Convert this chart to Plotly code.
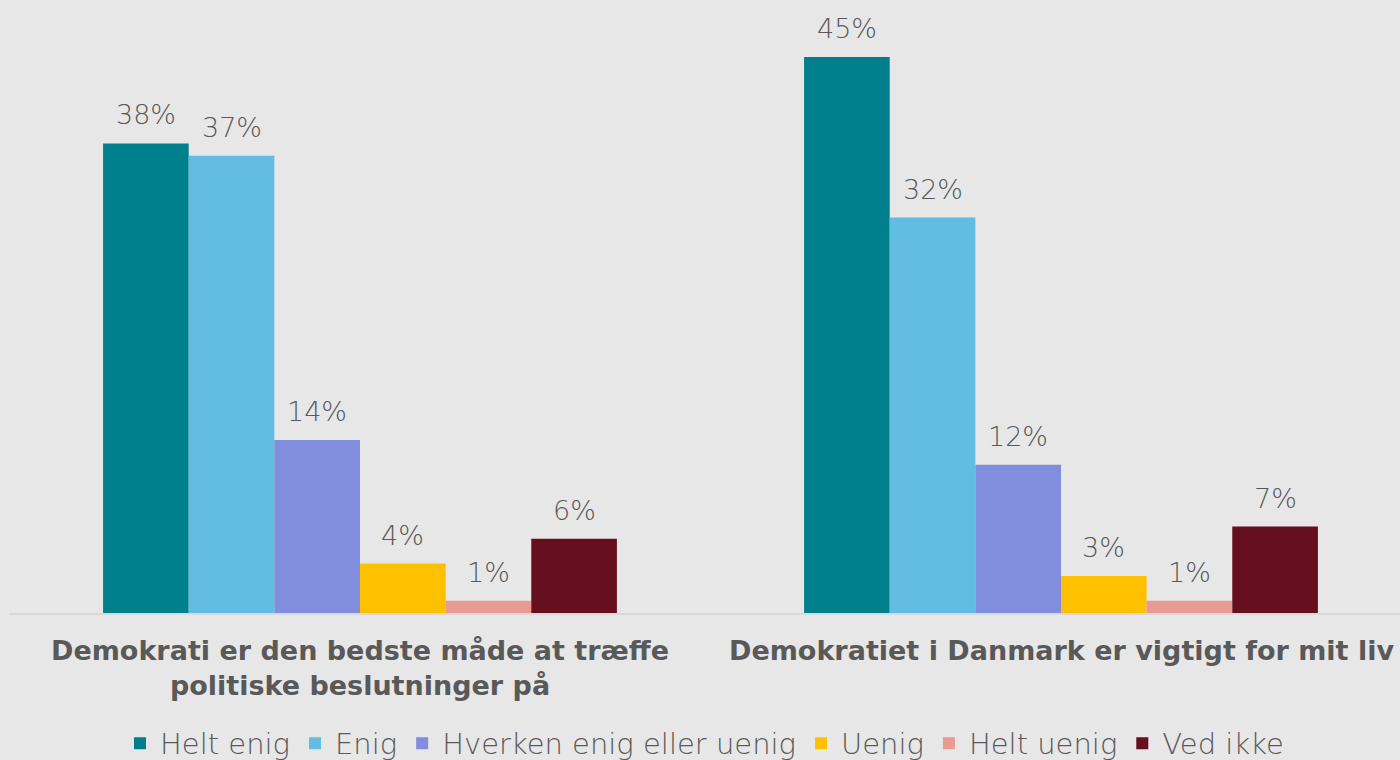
import plotly.graph_objects as go

categories = ["Demokrati er den bedste måde at træffe<br>politiske beslutninger på",
              "Demokratiet i Danmark er vigtigt for mit liv"]
series_names = ["Helt enig", "Enig", "Hverken enig eller uenig", "Uenig", "Helt uenig", "Ved ikke"]
series_values = [
    [38, 45],
    [37, 32],
    [14, 12],
    [4, 3],
    [1, 1],
    [6, 7],
]
series_colors = ["#007f8c", "#63bde3", "#818ddd", "#ffc000", "#e99a92", "#650f1f"]

x_pos = [0, 1]
BARGAP = 0.267
n = len(series_names)
group_w = 1 - BARGAP
bar_w = group_w / n

LIGHT = "DejaVu Sans, Open Sans, sans-serif"
BOLD = "DejaVu Sans, sans-serif"

fig = go.Figure()
for i, (name, vals, col) in enumerate(zip(series_names, series_values, series_colors)):
    fig.add_trace(go.Bar(
        x=x_pos, y=vals, name=name,
        marker=dict(color=col, line=dict(width=0)),
        hoverinfo="name+y",
    ))
    off = -group_w / 2 + bar_w * (i + 0.5)
    for xp, v in zip(x_pos, vals):
        fig.add_annotation(x=xp + off, xref="x", y=v, yref="y", yanchor="bottom", yshift=11,
                           text=f"{v}%", showarrow=False,
                           font=dict(family=LIGHT, size=27, color="#595959", weight=200))

for xp, cat in zip(x_pos, categories):
    fig.add_annotation(x=xp, xref="x", y=0, yref="paper", yanchor="top", yshift=-20,
                       text=f"<b>{cat}</b>", showarrow=False,
                       font=dict(family=BOLD, size=27, color="#595959"))

fig.update_layout(
    width=1400, height=760,
    paper_bgcolor="#e7e7e7", plot_bgcolor="#e7e7e7",
    margin=dict(l=9, r=0, t=13, b=147),
    barmode="group", bargap=BARGAP, bargroupgap=0,
    showlegend=True,
    legend=dict(orientation="h", x=0.5, xanchor="center", yref="container", y=0.022, yanchor="middle",
                font=dict(family=LIGHT, size=29, color="#595959", weight=200),
                bgcolor="rgba(0,0,0,0)"),
    xaxis=dict(range=[-0.5007, 1.4836], showticklabels=False, showgrid=False, zeroline=False,
               showline=True, linecolor="#d9d9d9", linewidth=2, fixedrange=True),
    yaxis=dict(range=[0, 48.56], visible=False, showgrid=False, zeroline=False, fixedrange=True),
)

fig.write_html("out.html", config={"displayModeBar": False},
               post_script="document.body.style.margin='0';document.body.style.overflow='hidden';")
